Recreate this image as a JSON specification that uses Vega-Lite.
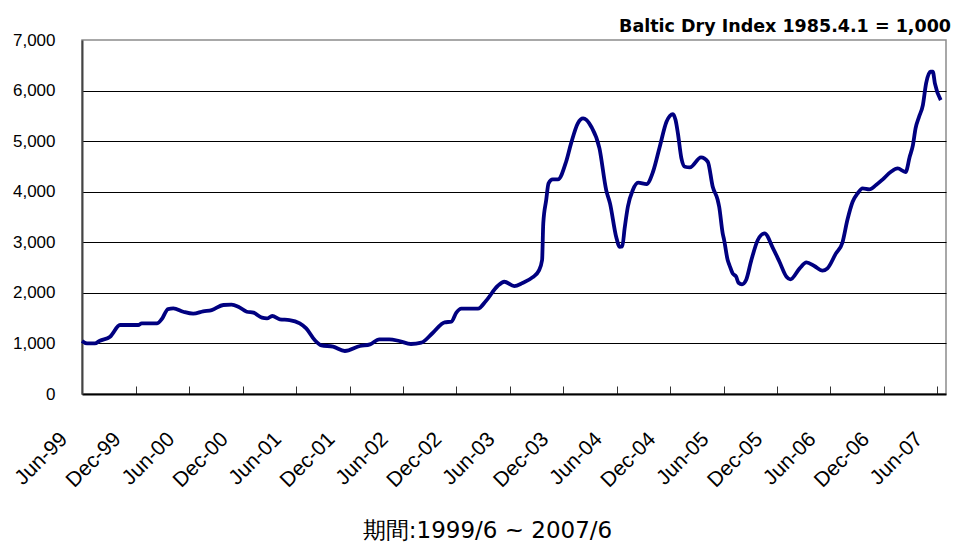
{
  "$schema": "https://vega.github.io/schema/vega-lite/v6.json",
  "width": 864,
  "height": 354,
  "autosize": {"type": "none"},
  "padding": {"left": 82, "top": 40, "right": 8, "bottom": 149},
  "background": "white",
  "config": {
    "view": {"stroke": "#8c8c8c", "strokeWidth": 1.5},
    "font": "Liberation Sans"
  },
  "title": {
    "text": "Baltic Dry Index 1985.4.1 = 1,000",
    "anchor": "end",
    "frame": "group",
    "font": "DejaVu Sans",
    "fontWeight": "bold",
    "fontSize": 17.5,
    "color": "black",
    "baseline": "alphabetic",
    "offset": 10,
    "dx": 5,
    "dy": 28
  },
  "data": {
    "values": [
      {"d": "1999-06-01", "v": 1050},
      {"d": "1999-06-18", "v": 1000},
      {"d": "1999-07-15", "v": 1000},
      {"d": "1999-08-01", "v": 1054},
      {"d": "1999-09-05", "v": 1133},
      {"d": "1999-10-09", "v": 1364},
      {"d": "1999-12-10", "v": 1364},
      {"d": "1999-12-22", "v": 1397},
      {"d": "2000-02-12", "v": 1397},
      {"d": "2000-02-28", "v": 1476},
      {"d": "2000-03-21", "v": 1680},
      {"d": "2000-04-08", "v": 1693},
      {"d": "2000-05-12", "v": 1627},
      {"d": "2000-06-15", "v": 1588},
      {"d": "2000-07-19", "v": 1634},
      {"d": "2000-08-17", "v": 1660},
      {"d": "2000-09-26", "v": 1760},
      {"d": "2000-10-24", "v": 1766},
      {"d": "2000-11-16", "v": 1726},
      {"d": "2000-12-15", "v": 1627},
      {"d": "2001-01-07", "v": 1608},
      {"d": "2001-02-05", "v": 1509},
      {"d": "2001-02-22", "v": 1495},
      {"d": "2001-03-12", "v": 1542},
      {"d": "2001-04-07", "v": 1476},
      {"d": "2001-05-10", "v": 1463},
      {"d": "2001-06-14", "v": 1397},
      {"d": "2001-07-06", "v": 1299},
      {"d": "2001-08-04", "v": 1068},
      {"d": "2001-08-27", "v": 962},
      {"d": "2001-10-06", "v": 936},
      {"d": "2001-11-15", "v": 850},
      {"d": "2002-01-06", "v": 949},
      {"d": "2002-02-09", "v": 982},
      {"d": "2002-03-13", "v": 1081},
      {"d": "2002-04-16", "v": 1081},
      {"d": "2002-05-20", "v": 1048},
      {"d": "2002-06-29", "v": 989},
      {"d": "2002-08-03", "v": 1015},
      {"d": "2002-09-12", "v": 1212},
      {"d": "2002-10-22", "v": 1417},
      {"d": "2002-11-14", "v": 1430},
      {"d": "2002-12-01", "v": 1608},
      {"d": "2002-12-18", "v": 1687},
      {"d": "2003-02-13", "v": 1687},
      {"d": "2003-03-12", "v": 1839},
      {"d": "2003-04-21", "v": 2135},
      {"d": "2003-05-14", "v": 2220},
      {"d": "2003-06-17", "v": 2135},
      {"d": "2003-07-15", "v": 2195},
      {"d": "2003-08-18", "v": 2305},
      {"d": "2003-09-09", "v": 2440},
      {"d": "2003-09-20", "v": 2649},
      {"d": "2003-09-24", "v": 3375},
      {"d": "2003-10-04", "v": 3835},
      {"d": "2003-10-12", "v": 4165},
      {"d": "2003-10-26", "v": 4244},
      {"d": "2003-11-13", "v": 4244},
      {"d": "2003-12-11", "v": 4593},
      {"d": "2003-12-28", "v": 4956},
      {"d": "2004-01-20", "v": 5352},
      {"d": "2004-02-07", "v": 5450},
      {"d": "2004-03-06", "v": 5285},
      {"d": "2004-04-03", "v": 4857},
      {"d": "2004-04-26", "v": 4033},
      {"d": "2004-05-09", "v": 3770},
      {"d": "2004-05-30", "v": 3110},
      {"d": "2004-06-11", "v": 2912},
      {"d": "2004-06-20", "v": 2920},
      {"d": "2004-06-28", "v": 3276},
      {"d": "2004-07-09", "v": 3703},
      {"d": "2004-07-26", "v": 4033},
      {"d": "2004-08-13", "v": 4178},
      {"d": "2004-09-11", "v": 4152},
      {"d": "2004-10-03", "v": 4395},
      {"d": "2004-10-26", "v": 4890},
      {"d": "2004-11-18", "v": 5384},
      {"d": "2004-12-10", "v": 5536},
      {"d": "2004-12-19", "v": 5417},
      {"d": "2004-12-27", "v": 5154},
      {"d": "2005-01-08", "v": 4659},
      {"d": "2005-01-20", "v": 4494},
      {"d": "2005-02-06", "v": 4481},
      {"d": "2005-03-16", "v": 4679},
      {"d": "2005-04-08", "v": 4593},
      {"d": "2005-04-25", "v": 4099},
      {"d": "2005-05-12", "v": 3835},
      {"d": "2005-05-17", "v": 3703},
      {"d": "2005-05-29", "v": 3177},
      {"d": "2005-06-03", "v": 3045},
      {"d": "2005-06-15", "v": 2649},
      {"d": "2005-06-21", "v": 2550},
      {"d": "2005-07-02", "v": 2386},
      {"d": "2005-07-14", "v": 2319},
      {"d": "2005-07-22", "v": 2200},
      {"d": "2005-08-03", "v": 2168},
      {"d": "2005-08-17", "v": 2254},
      {"d": "2005-09-04", "v": 2649},
      {"d": "2005-09-26", "v": 3045},
      {"d": "2005-10-19", "v": 3177},
      {"d": "2005-11-17", "v": 2880},
      {"d": "2005-12-09", "v": 2616},
      {"d": "2006-01-02", "v": 2319},
      {"d": "2006-01-15", "v": 2267},
      {"d": "2006-02-16", "v": 2484},
      {"d": "2006-03-11", "v": 2603},
      {"d": "2006-04-07", "v": 2530},
      {"d": "2006-05-05", "v": 2438},
      {"d": "2006-05-22", "v": 2484},
      {"d": "2006-06-20", "v": 2781},
      {"d": "2006-07-12", "v": 2991},
      {"d": "2006-07-29", "v": 3440},
      {"d": "2006-08-16", "v": 3802},
      {"d": "2006-09-02", "v": 3968},
      {"d": "2006-09-19", "v": 4066},
      {"d": "2006-10-12", "v": 4046},
      {"d": "2006-11-04", "v": 4132},
      {"d": "2006-11-27", "v": 4244},
      {"d": "2006-12-25", "v": 4395},
      {"d": "2007-01-17", "v": 4461},
      {"d": "2007-02-13", "v": 4389},
      {"d": "2007-02-27", "v": 4692},
      {"d": "2007-03-10", "v": 4923},
      {"d": "2007-03-19", "v": 5253},
      {"d": "2007-03-31", "v": 5483},
      {"d": "2007-04-13", "v": 5714},
      {"d": "2007-04-24", "v": 6142},
      {"d": "2007-05-09", "v": 6372},
      {"d": "2007-05-17", "v": 6372},
      {"d": "2007-05-24", "v": 6142},
      {"d": "2007-06-13", "v": 5812}
    ]
  },
  "mark": {"type": "line", "color": "#000080", "strokeWidth": 3.8, "interpolate": "monotone"},
  "encoding": {
    "x": {
      "field": "d",
      "type": "temporal",
      "scale": {
        "type": "utc",
        "domain": [
          {"year": 1999, "month": 6, "date": 1, "utc": true},
          {"year": 2007, "month": 7, "date": 1, "utc": true}
        ]
      },
      "axis": {
        "title": "期間:1999/6  ~  2007/6",
        "titleFont": "DejaVu Sans",
        "titleFontWeight": "normal",
        "titleFontSize": 23,
        "titleColor": "black",
        "titleAnchor": "start",
        "titleAlign": "center",
        "titleX": 405,
        "titleY": 143,
        "titleBaseline": "alphabetic",
        "values": [
          {"year": 1999, "month": 6, "date": 1, "utc": true},
          {"year": 1999, "month": 12, "date": 1, "utc": true},
          {"year": 2000, "month": 6, "date": 1, "utc": true},
          {"year": 2000, "month": 12, "date": 1, "utc": true},
          {"year": 2001, "month": 6, "date": 1, "utc": true},
          {"year": 2001, "month": 12, "date": 1, "utc": true},
          {"year": 2002, "month": 6, "date": 1, "utc": true},
          {"year": 2002, "month": 12, "date": 1, "utc": true},
          {"year": 2003, "month": 6, "date": 1, "utc": true},
          {"year": 2003, "month": 12, "date": 1, "utc": true},
          {"year": 2004, "month": 6, "date": 1, "utc": true},
          {"year": 2004, "month": 12, "date": 1, "utc": true},
          {"year": 2005, "month": 6, "date": 1, "utc": true},
          {"year": 2005, "month": 12, "date": 1, "utc": true},
          {"year": 2006, "month": 6, "date": 1, "utc": true},
          {"year": 2006, "month": 12, "date": 1, "utc": true},
          {"year": 2007, "month": 6, "date": 1, "utc": true}
        ],
        "format": "%b-%y",
        "labelAngle": -45,
        "labelAlign": "right",
        "labelBaseline": "top",
        "labelFontSize": 21,
        "labelColor": "black",
        "labelPadding": 42,
        "labelOffset": -26,
        "labelFlush": false,
        "labelOverlap": false,
        "grid": false,
        "domainColor": "black",
        "domainWidth": 2,
        "tickColor": "#333",
        "tickSize": -8,
        "tickWidth": 1
      }
    },
    "y": {
      "field": "v",
      "type": "quantitative",
      "scale": {"domain": [0, 7000], "nice": false, "zero": true},
      "axis": {
        "title": null,
        "values": [0, 1000, 2000, 3000, 4000, 5000, 6000, 7000],
        "format": ",d",
        "labelFontSize": 17,
        "labelColor": "black",
        "labelPadding": 27,
        "ticks": false,
        "domainColor": "#444",
        "domainWidth": 2,
        "gridColor": {"condition": {"test": "datum.value == 7000 || datum.value == 0", "value": "transparent"}, "value": "black"},
        "gridOpacity": 1,
        "gridWidth": 1
      }
    }
  }
}
